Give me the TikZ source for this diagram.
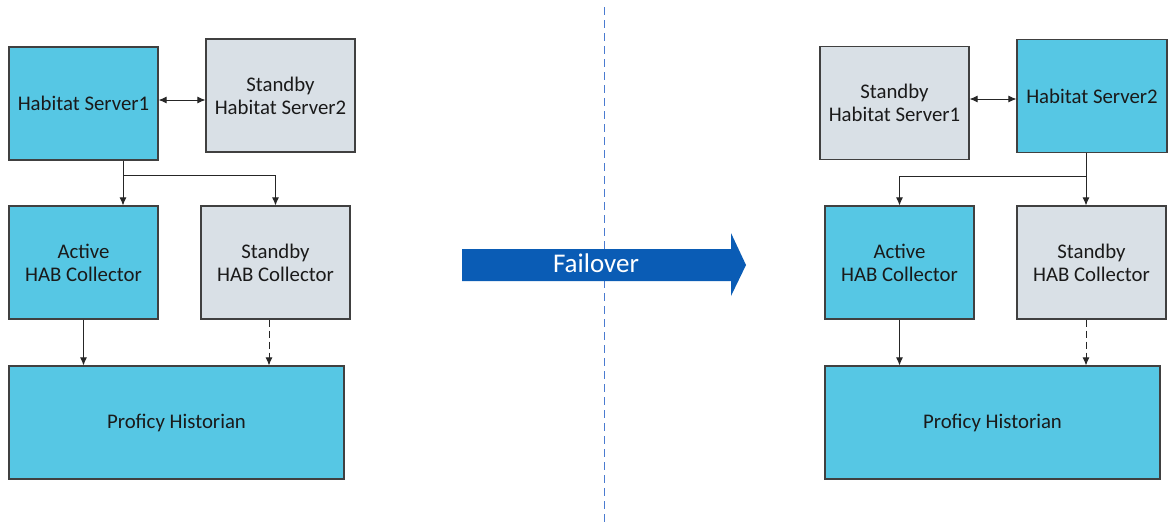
\documentclass[tikz,border=0pt]{standalone}
\usepackage{fontspec}
\setmainfont{Carlito}
\usetikzlibrary{arrows.meta}
\definecolor{cy}{HTML}{56C7E4}
\definecolor{gy}{HTML}{D9E0E6}
\definecolor{bd}{HTML}{404040}
\definecolor{fobl}{HTML}{0A5CB5}
\definecolor{dv}{HTML}{4A7BD0}
\definecolor{tx}{HTML}{1A1A1A}
\begin{document}
\begin{tikzpicture}[x=1pt,y=-1pt,
 box/.style={draw=bd,line width=1.1pt,minimum width=149pt,minimum height=113pt,inner sep=0pt,align=center,text=tx,font=\fontsize{20.8}{23}\selectfont},
 act/.style={box,fill=cy},
 sby/.style={box,fill=gy},
 conn/.style={draw=black!85,line width=1pt,-{Latex[length=8pt,width=7pt]}},
 dconn/.style={conn,dash pattern=on 7pt off 4pt},
 bid/.style={conn,{Latex[length=8pt,width=7pt]}-{Latex[length=8pt,width=7pt]}},
]
\useasboundingbox (0,0) rectangle (1168,525);
\fill[white] (0,0) rectangle (1168,525);

% divider
\coordinate (dtop) at (604,7);
\coordinate (dbot) at (604,525);
\draw[dv,line width=1pt,dash pattern=on 8pt off 5pt] (dtop) -- (dbot);

% left side
\node[act] (hs1) at (83.5,103.5) {Habitat Server1};
\node[sby] (sb2) at (280.5,95.5) {Standby\\Habitat Server2};
\node[act] (ac1) at (83.5,262.5) {Active\\HAB Collector};
\node[sby] (sc1) at (275.5,262.5) {Standby\\HAB Collector};
\node[act,minimum width=335pt] (ph1) at (176.5,422.5) {Proficy Historian};

\draw[bid] ([yshift=3.5pt]hs1.east) -- ([yshift=3.5pt]hs1.east -| sb2.west);
\draw[conn] ([xshift=39.5pt]hs1.south) -- ([xshift=39.5pt]ac1.north);
\draw[conn] ([xshift=39.5pt]hs1.south) ++(0,15) -| (sc1.north);
\draw[conn] (ac1.south) -- (ac1.south |- ph1.north);
\draw[dconn] ([xshift=-6.5pt]sc1.south) -- ([xshift=-6.5pt]sc1.south |- ph1.north);

% right side
\node[sby] (sb1) at (894.5,103) {Standby\\Habitat Server1};
\node[act,minimum width=150pt] (hs2) at (1092,96) {Habitat Server2};
\node[act] (ac2) at (899.5,262.5) {Active\\HAB Collector};
\node[sby] (sc2) at (1091.5,262.5) {Standby\\HAB Collector};
\node[act,minimum width=335pt] (ph2) at (992.5,422.5) {Proficy Historian};

\draw[bid] ([yshift=4pt]sb1.east) -- ([yshift=4pt]sb1.east -| hs2.west);
\draw[conn] ([xshift=-5.5pt]sc2.north |- hs2.south) -- ([xshift=-5.5pt]sc2.north);
\draw[conn] ([xshift=-5.5pt]sc2.north |- hs2.south) ++(0,23) -| (ac2.north);
\draw[conn] (ac2.south) -- (ac2.south |- ph2.north);
\draw[dconn] ([xshift=-5.5pt]sc2.south) -- ([xshift=-5.5pt]sc2.south |- ph2.north);

% failover arrow
\fill[fobl] (462,249) -- (731,249) -- (731,233) -- (746,265) -- (731,296) -- (731,281) -- (462,281) -- cycle;
\node[text=white,font=\fontsize{27}{30}\selectfont,inner sep=0pt] (fo) at (596,263) {Failover};
\end{tikzpicture}
\end{document}
